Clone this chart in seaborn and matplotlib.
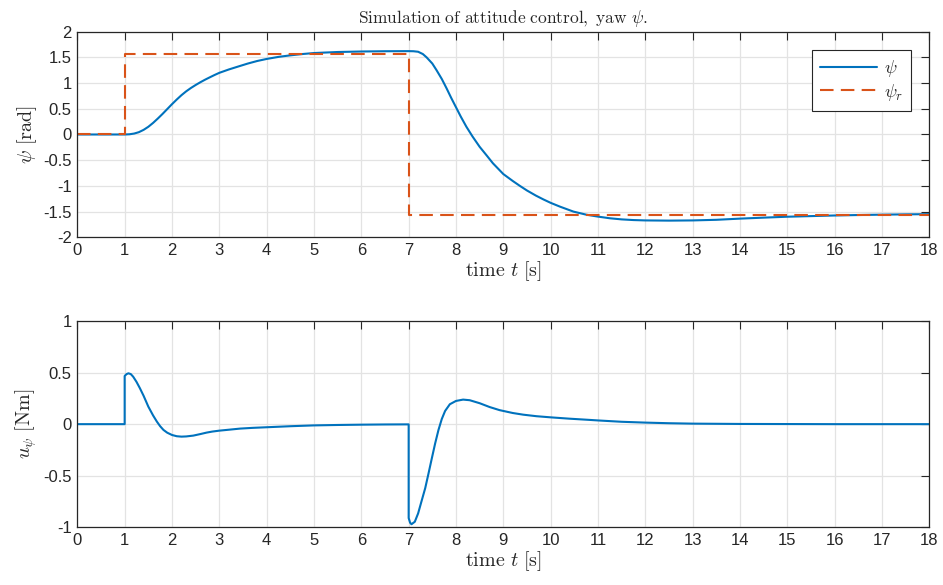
import matplotlib
matplotlib.use("Agg")
import matplotlib.pyplot as plt
import seaborn as sns

# Yaw angle response psi(t) [rad]
t_psi = [0.0, 1.0, 1.1, 1.2, 1.3, 1.4, 1.5, 1.6, 1.7, 1.8, 1.9, 2.0, 2.1, 2.2, 2.3, 2.4,
         2.5, 2.6, 2.7, 2.8, 2.9, 3.0, 3.2, 3.39, 3.6, 3.8, 4.0, 4.25, 4.5, 4.75, 5.0,
         5.5, 6.0, 6.5, 7.0, 7.1, 7.2, 7.3, 7.38, 7.5, 7.59, 7.7, 7.8, 7.9, 8.0, 8.1,
         8.22, 8.35, 8.5, 8.65, 8.78, 9.0, 9.2, 9.35, 9.5, 9.69, 9.85, 10.0, 10.2,
         10.48, 10.75, 11.0, 11.25, 11.5, 11.75, 12.0, 12.5, 13.0, 13.5, 14.0, 14.5,
         15.0, 15.5, 16.0, 16.5, 17.0, 17.5, 18.0]
psi = [0.0, 0.0, 0.004, 0.018, 0.045, 0.09, 0.15, 0.225, 0.31, 0.40, 0.495, 0.59, 0.68,
       0.765, 0.84, 0.905, 0.963, 1.017, 1.067, 1.113, 1.158, 1.20, 1.265, 1.32, 1.38,
       1.43, 1.47, 1.51, 1.54, 1.565, 1.585, 1.605, 1.615, 1.62, 1.622, 1.62, 1.61,
       1.565, 1.50, 1.38, 1.25, 1.08, 0.90, 0.71, 0.53, 0.35, 0.15, -0.04, -0.24,
       -0.41, -0.56, -0.77, -0.905, -1.0, -1.09, -1.19, -1.265, -1.33, -1.405, -1.50,
       -1.56, -1.598, -1.63, -1.652, -1.665, -1.672, -1.676, -1.672, -1.66, -1.637,
       -1.618, -1.60, -1.588, -1.576, -1.567, -1.56, -1.554, -1.55]

# Reference yaw psi_r(t) [rad]
t_ref = [0.0, 1.0, 1.0, 7.0, 7.0, 18.0]
psi_ref = [0.0, 0.0, 1.5708, 1.5708, -1.5708, -1.5708]

# Control torque u_psi(t) [Nm]
t_u = [0.0, 1.0, 1.0, 1.04, 1.08, 1.13, 1.18, 1.25, 1.32, 1.4, 1.5, 1.6, 1.68, 1.75,
       1.82, 1.9, 2.0, 2.1, 2.2, 2.3, 2.45, 2.6, 2.73, 2.85, 3.0, 3.2, 3.44, 3.7, 4.0,
       4.5, 5.0, 5.5, 6.0, 6.5, 7.0, 7.0, 7.03, 7.06, 7.13, 7.2, 7.27, 7.35, 7.42,
       7.49, 7.56, 7.63, 7.7, 7.77, 7.87, 8.0, 8.15, 8.29, 8.5, 8.71, 8.92, 9.2, 9.42,
       9.7, 10.0, 10.4, 10.83, 11.0, 11.5, 12.0, 12.5, 13.0, 14.0, 15.0, 16.0, 18.0]
u_psi = [0.0, 0.0, 0.467, 0.485, 0.493, 0.485, 0.46, 0.41, 0.35, 0.275, 0.17, 0.085,
         0.025, -0.02, -0.056, -0.083, -0.105, -0.117, -0.121, -0.119, -0.111, -0.096,
         -0.082, -0.072, -0.063, -0.054, -0.043, -0.036, -0.03, -0.02, -0.012, -0.008,
         -0.005, -0.003, -0.002, -0.91, -0.955, -0.97, -0.946, -0.865, -0.75, -0.62,
         -0.477, -0.33, -0.186, -0.056, 0.05, 0.128, 0.193, 0.225, 0.238, 0.232, 0.203,
         0.166, 0.136, 0.108, 0.092, 0.077, 0.066, 0.053, 0.041, 0.036, 0.023, 0.015,
         0.009, 0.005, 0.002, 0.001, 0.0, 0.0]

x_ticks = list(range(0, 19))
x_ticklabels = [str(v) for v in x_ticks]
psi_yticks = [-2, -1.5, -1, -0.5, 0, 0.5, 1, 1.5, 2]
psi_yticklabels = ["-2", "-1.5", "-1", "-0.5", "0", "0.5", "1", "1.5", "2"]
u_yticks = [-1, -0.5, 0, 0.5, 1]
u_yticklabels = ["-1", "-0.5", "0", "0.5", "1"]

BLUE = "#0072BD"
ORANGE = "#D95319"
INK = "#262626"

sns.set_style("white")
plt.rcParams["font.family"] = ["Liberation Sans", "DejaVu Sans"]
plt.rcParams["mathtext.fontset"] = "cm"
plt.rcParams["axes.unicode_minus"] = False

fig = plt.figure(figsize=(9.43, 5.85), dpi=100)
ax1 = fig.add_axes([0.082, 0.5944, 0.9035, 0.3514])
ax2 = fig.add_axes([0.082, 0.0986, 0.9035, 0.3527])

sns.lineplot(x=t_psi, y=psi, ax=ax1, color=BLUE, lw=1.5, estimator=None, sort=False,
             label=r"$\psi$")
sns.lineplot(x=t_ref, y=psi_ref, ax=ax1, color=ORANGE, lw=1.5, estimator=None, sort=False,
             label=r"$\psi_r$", linestyle=(0, (6.5, 3.5)))
sns.lineplot(x=t_u, y=u_psi, ax=ax2, color=BLUE, lw=1.5, estimator=None, sort=False)


def style_axes(ax, yticks, yticklabels):
    ax.set_xlim(0, 18)
    ax.set_xticks(x_ticks)
    ax.set_xticklabels(x_ticklabels)
    ax.set_ylim(yticks[0], yticks[-1])
    ax.set_yticks(yticks)
    ax.set_yticklabels(yticklabels)
    ax.grid(True, color="#e3e3e3", linewidth=0.9)
    ax.set_axisbelow(True)
    for sp in ax.spines.values():
        sp.set_visible(True)
        sp.set_color(INK)
        sp.set_linewidth(0.9)
    ax.tick_params(axis="both", which="major", direction="in", length=6, width=0.8,
                   color=INK, labelcolor=INK, labelsize=12,
                   top=True, right=True, pad=4)
    ax.set_xlabel(r"$\mathrm{time}\ t\ [\mathrm{s}]$", fontsize=14.5, color=INK,
                  labelpad=1)


style_axes(ax1, psi_yticks, psi_yticklabels)
style_axes(ax2, u_yticks, u_yticklabels)
ax1.set_ylabel(r"$\psi\ [\mathrm{rad}]$", fontsize=14.5, color=INK, labelpad=3)
ax2.set_ylabel(r"$u_\psi\ [\mathrm{Nm}]$", fontsize=14.5, color=INK, labelpad=3)
ax1.set_title(r"$\mathrm{Simulation\ of\ attitude\ control,\ yaw}\ \psi.$", fontsize=12.5,
              color=INK, pad=6)

leg = ax1.legend(loc="upper right", fontsize=13, handlelength=3.15, handletextpad=0.4,
                 borderaxespad=1.0, frameon=True, fancybox=False, edgecolor=INK,
                 framealpha=1, borderpad=0.45, labelspacing=0.15)
leg.get_frame().set_linewidth(0.8)

fig.savefig("out.png", dpi=100)
